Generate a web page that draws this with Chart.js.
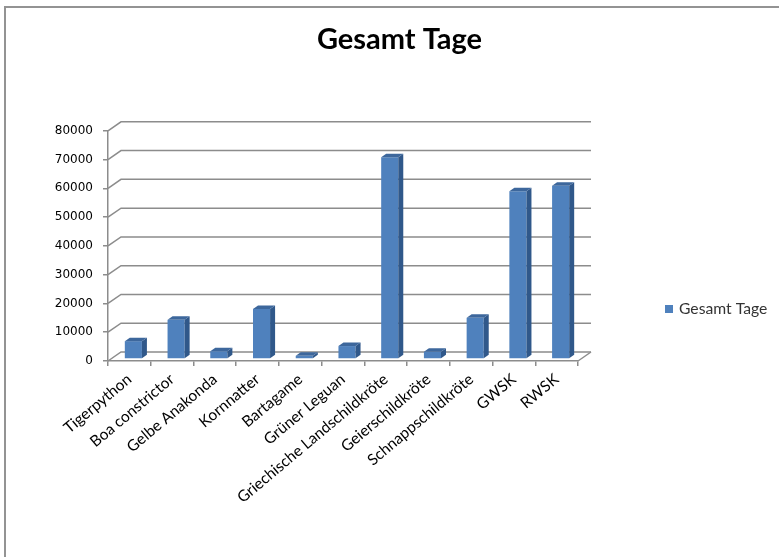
<!DOCTYPE html>
<html lang="de">
<head>
<meta charset="utf-8">
<title>Gesamt Tage</title>
<script src="https://cdn.jsdelivr.net/npm/chart.js@4/dist/chart.umd.min.js"></script>
<style>
  html, body { margin: 0; padding: 0; background: #ffffff; }
  #wrap { width: 779px; height: 557px; position: relative; }
</style>
</head>
<body>
<div id="wrap"><canvas id="chart" width="779" height="557"></canvas></div>
<script>
// Tiere und ihre gesamten Haltungstage
const categories = [
  'Tigerpython', 'Boa constrictor', 'Gelbe Anakonda', 'Kornnatter', 'Bartagame',
  'Grüner Leguan', 'Griechische Landschildkröte', 'Geierschildkröte',
  'Schnappschildkröte', 'GWSK', 'RWSK'
];
const seriesLabel = 'Gesamt Tage';
const gesamtTage = [6200, 13600, 2700, 17400, 1100, 4500, 70100, 2500, 14300, 58300, 60200];
const yMin = 0;
const yMax = 80000;
const yStep = 10000;

// depth of the back wall and of each column
const WALL_DX = 13, WALL_DY = 9;
const BAR_DX = 5, BAR_DY = 3.5;
const BAR_SHIFT_X = 4, BAR_SHIFT_Y = -2;
const GRID_COLOR = '#8c8c8c';
const FRONT = '#4f81bd', SIDE = '#30588a', TOP = '#3d679c';

const frame = {
  id: 'frame',
  beforeDraw(chart) {
    const ctx = chart.ctx;
    ctx.save();
    ctx.fillStyle = '#ffffff';
    ctx.fillRect(0, 0, chart.width, chart.height);
    ctx.strokeStyle = '#939393';
    ctx.lineWidth = 2;
    ctx.beginPath();
    ctx.moveTo(5, chart.height);
    ctx.lineTo(5, 7);
    ctx.lineTo(chart.width, 7);
    ctx.stroke();
    ctx.restore();
  }
};

const wall3d = {
  id: 'wall3d',
  beforeDatasetsDraw(chart) {
    const { ctx, chartArea: a, scales: { y } } = chart;
    ctx.save();
    ctx.strokeStyle = GRID_COLOR;
    ctx.lineWidth = 1.5;
    for (let v = yMin; v <= yMax; v += yStep) {
      const py = y.getPixelForValue(v);
      ctx.beginPath();
      ctx.moveTo(a.left, py);
      ctx.lineTo(a.left + WALL_DX, py - WALL_DY);
      ctx.lineTo(a.right + WALL_DX, py - WALL_DY);
      ctx.stroke();
    }
    ctx.beginPath();
    ctx.moveTo(a.right, a.bottom);
    ctx.lineTo(a.right + WALL_DX, a.bottom - WALL_DY);
    ctx.stroke();
    ctx.restore();
    // columns stand a little behind the front edge of the floor
    ctx.save();
    ctx.translate(BAR_SHIFT_X, BAR_SHIFT_Y);
  },
  afterDatasetsDraw(chart) {
    const ctx = chart.ctx;
    chart.getDatasetMeta(0).data.forEach(bar => {
      const { x, y, base, width } = bar.getProps(['x', 'y', 'base', 'width'], true);
      const l = x - width / 2, r = x + width / 2;
      ctx.fillStyle = SIDE;
      ctx.beginPath();
      ctx.moveTo(r, y);
      ctx.lineTo(r + BAR_DX, y - BAR_DY);
      ctx.lineTo(r + BAR_DX, base - BAR_DY);
      ctx.lineTo(r, base);
      ctx.closePath();
      ctx.fill();
      ctx.fillStyle = TOP;
      ctx.beginPath();
      ctx.moveTo(l, y);
      ctx.lineTo(l + BAR_DX, y - BAR_DY);
      ctx.lineTo(r + BAR_DX, y - BAR_DY);
      ctx.lineTo(r, y);
      ctx.closePath();
      ctx.fill();
    });
    ctx.restore();
  }
};

const sideLegend = {
  id: 'sideLegend',
  afterDraw(chart) {
    const ctx = chart.ctx;
    const ds = chart.data.datasets[0];
    ctx.save();
    ctx.fillStyle = ds.backgroundColor;
    ctx.fillRect(665, 305, 8, 8);
    ctx.fillStyle = '#333333';
    ctx.font = '15.7px Lato';
    ctx.textBaseline = 'middle';
    ctx.textAlign = 'left';
    ctx.fillText(ds.label, 679, 309);
    ctx.restore();
  }
};

new Chart(document.getElementById('chart'), {
  type: 'bar',
  data: {
    labels: categories,
    datasets: [{
      label: seriesLabel,
      data: gesamtTage,
      backgroundColor: FRONT,
      borderWidth: 0,
      categoryPercentage: 1,
      barPercentage: 0.4,
      clip: false
    }]
  },
  options: {
    responsive: false,
    animation: false,
    layout: { padding: { left: 20, right: 0, top: 0, bottom: 0 } },
    plugins: {
      legend: { display: false },
      tooltip: { enabled: false },
      title: {
        display: true,
        text: seriesLabel,
        color: '#000000',
        font: { family: 'Lato', size: 29, weight: 'bold' },
        padding: { top: 22, bottom: 74 }
      }
    },
    scales: {
      x: {
        grid: { drawOnChartArea: false, drawTicks: true, tickLength: 5, color: GRID_COLOR, lineWidth: 1.5 },
        border: { display: true, color: GRID_COLOR, width: 1.5 },
        ticks: {
          autoSkip: false, minRotation: 40, maxRotation: 40, padding: 4,
          color: '#000000', font: { family: 'Lato', size: 15.5 }
        },
        afterFit(scale) { scale.height = 196; }
      },
      y: {
        min: yMin, max: yMax,
        grid: { drawOnChartArea: false, drawTicks: true, tickLength: 5, color: GRID_COLOR, lineWidth: 1.5 },
        border: { display: true, color: GRID_COLOR, width: 1.5 },
        ticks: {
          stepSize: yStep, padding: 10,
          color: '#000000', font: { family: 'DejaVu Sans', size: 12 },
          callback: v => String(v)
        },
        afterFit(scale) { scale.width = 88; }
      },
      legendSpace: {
        type: 'linear', position: 'right', display: true,
        grid: { display: false }, border: { display: false },
        ticks: { display: false },
        afterFit(scale) { scale.width = 201; }
      }
    }
  },
  plugins: [frame, wall3d, sideLegend]
});
</script>
</body>
</html>
